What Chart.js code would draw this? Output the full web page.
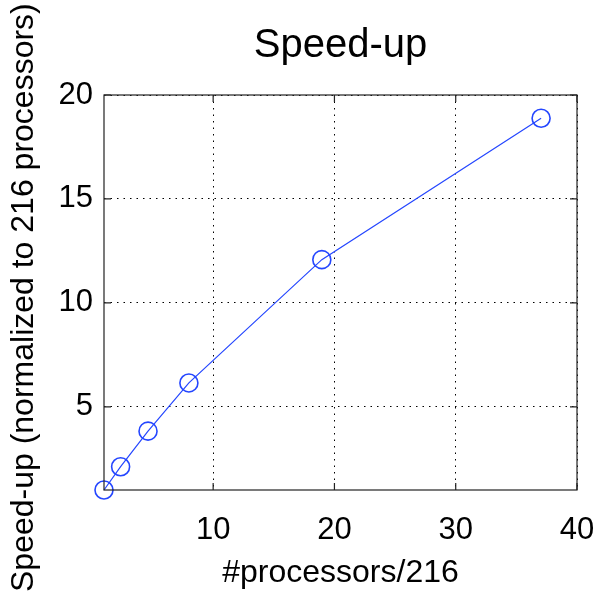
<!DOCTYPE html>
<html>
<head>
<meta charset="utf-8">
<title>Speed-up</title>
<script src="https://cdn.jsdelivr.net/npm/chart.js@4"></script>
<style>
  html, body { margin: 0; padding: 0; background: #fff; }
  #wrap { width: 597px; height: 594px; }
</style>
</head>
<body>
<div id="wrap"><canvas id="chart" width="597" height="594"></canvas></div>
<script>
// processors / 216 (cubic processor grids) and measured speed-up
const procRatio = [1, 2.37, 4.63, 8, 18.96, 37.04];
const speedUp = [1, 2.12, 3.83, 6.15, 12.08, 18.88];
const xTicks = [10, 20, 30, 40];
const yTicks = [5, 10, 15, 20];

const FONT = 'Liberation Sans, Arial, Helvetica, sans-serif';
const lineBlue = '#2446ff';

// box around the axes plus inward tick marks on all four sides, MATLAB style
const axesBox = {
    id: 'axesBox',
    afterDraw(chart) {
        const ctx = chart.ctx;
        const a = chart.chartArea;
        const xs = chart.scales.x;
        const ys = chart.scales.y;
        const len = 7;
        ctx.save();
        ctx.strokeStyle = '#222';
        ctx.lineWidth = 1.2;
        ctx.strokeRect(a.left, a.top, a.right - a.left, a.bottom - a.top);
        ctx.beginPath();
        xTicks.forEach(function(v) {
            const px = xs.getPixelForValue(v);
            ctx.moveTo(px, a.bottom); ctx.lineTo(px, a.bottom - len);
            ctx.moveTo(px, a.top); ctx.lineTo(px, a.top + len);
        });
        yTicks.forEach(function(v) {
            const py = ys.getPixelForValue(v);
            ctx.moveTo(a.left, py); ctx.lineTo(a.left + len, py);
            ctx.moveTo(a.right, py); ctx.lineTo(a.right - len, py);
        });
        ctx.stroke();

        // y label runs off the top of the figure
        ctx.translate(24, 592);
        ctx.rotate(-Math.PI / 2);
        ctx.fillStyle = '#000';
        ctx.font = '32px ' + FONT;
        ctx.textAlign = 'left';
        ctx.textBaseline = 'middle';
        ctx.fillText('Speed-up (normalized to 216 processors)', 0, 0);
        ctx.restore();
    }
};

const ctx = document.getElementById('chart').getContext('2d');
new Chart(ctx, {
    type: 'line',
    data: {
        datasets: [{
            data: procRatio.map(function(x, i) { return {x: x, y: speedUp[i]}; }),
            borderColor: lineBlue,
            borderWidth: 1.2,
            pointRadius: 9,
            pointBorderWidth: 1.6,
            pointBorderColor: lineBlue,
            pointBackgroundColor: 'rgba(0,0,0,0)',
            tension: 0,
            clip: false
        }]
    },
    options: {
        responsive: false,
        animation: false,
        events: [],
        layout: { padding: { left: 0, right: 20, top: 0, bottom: 0 } },
        plugins: {
            legend: { display: false },
            tooltip: { enabled: false },
            title: {
                display: true,
                text: 'Speed-up',
                color: '#000',
                fullSize: false,
                font: { family: FONT, size: 40, weight: 'normal', lineHeight: 1.2 },
                padding: { top: 22, bottom: 25 }
            }
        },
        scales: {
            x: {
                type: 'linear',
                min: 1,
                max: 40,
                afterBuildTicks: function(scale) {
                    scale.ticks = xTicks.map(function(v) { return {value: v}; });
                },
                afterFit: function(scale) {
                    scale.height = 104;
                    scale.paddingLeft = 0;
                    scale.paddingRight = 0;
                },
                grid: { color: '#000', lineWidth: 1, drawTicks: false },
                border: { display: false, dash: [1.5, 5] },
                ticks: {
                    color: '#000',
                    font: { family: FONT, size: 31 },
                    padding: 22,
                    maxRotation: 0,
                    autoSkip: false
                },
                title: {
                    display: true,
                    text: '#processors/216',
                    color: '#000',
                    font: { family: FONT, size: 32, lineHeight: 1.2 },
                    padding: { top: 0, bottom: 2 }
                }
            },
            y: {
                type: 'linear',
                min: 1,
                max: 20,
                afterBuildTicks: function(scale) {
                    scale.ticks = yTicks.map(function(v) { return {value: v}; });
                },
                afterFit: function(scale) {
                    scale.width = 104;
                    scale.paddingTop = 0;
                    scale.paddingBottom = 0;
                },
                grid: { color: '#000', lineWidth: 1, drawTicks: false },
                border: { display: false, dash: [1.5, 5] },
                ticks: {
                    color: '#000',
                    font: { family: FONT, size: 31 },
                    padding: 11
                }
            }
        }
    },
    plugins: [axesBox]
});
</script>
</body>
</html>
